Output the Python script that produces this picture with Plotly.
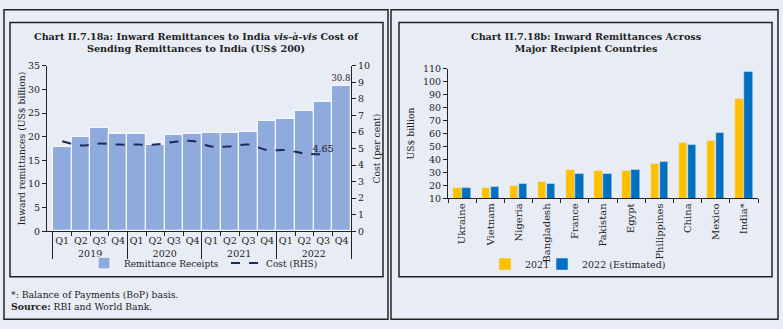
import plotly.graph_objects as go

# ---------------- data ----------------
years = ["2019", "2020", "2021", "2022"]
quarters = ["Q1", "Q2", "Q3", "Q4"]
remittance_receipts = [17.8, 19.9, 21.9, 20.7, 20.5, 18.2, 20.3, 20.5,
                       20.8, 20.8, 21.0, 23.3, 23.7, 25.5, 27.4, 30.8]
cost_rhs = [5.44, 5.19, 5.30, 5.24, 5.24, 5.24, 5.40, 5.46,
            5.13, 5.13, 5.24, 4.91, 4.91, 4.70, 4.65]

countries = ["Ukraine", "Vietnam", "Nigeria", "Bangladesh", "France", "Pakistan",
             "Egypt", "Philippines", "China", "Mexico", "India*"]
rem_2021 = [18.0, 18.0, 19.6, 22.5, 32.4, 31.4, 31.5, 36.9, 53.0, 54.4, 86.9]
rem_2022 = [18.5, 18.9, 21.0, 21.2, 28.8, 29.2, 32.4, 38.2, 51.0, 60.5, 107.5]

# ---------------- style ----------------
W, H = 783, 329
BG = "#E8EDF5"
INK = "#222222"
FONT = "DejaVu Serif"
FS = 9.5

def px(x):
    return x / W

def py(y):
    return 1 - y / H

xcat = [[y for y in years for _ in quarters], [q for _ in years for q in quarters]]
xcat_cost = [xcat[0][:len(cost_rhs)], xcat[1][:len(cost_rhs)]]

fig = go.Figure()

fig.add_trace(go.Bar(
    x=xcat, y=remittance_receipts, name="Remittance Receipts", showlegend=True,
    marker=dict(color="#8FAADC", line=dict(color="#F4F6FA", width=1.2)),
    text=[""] * (len(remittance_receipts) - 1) + [f"{remittance_receipts[-1]:.1f}"],
    textposition="outside", textfont=dict(family=FONT, size=FS, color=INK),
    cliponaxis=False, xaxis="x", yaxis="y", legend="legend", width=1.0,
))
fig.add_trace(go.Scatter(
    x=xcat_cost, y=cost_rhs, name="Cost (RHS)", mode="lines+text", showlegend=True,
    line=dict(color="#1F2A5E", width=2, dash="dash", shape="spline"),
    text=[""] * (len(cost_rhs) - 1) + [f"{cost_rhs[-1]:.2f}"],
    textposition="top center", textfont=dict(family=FONT, size=FS, color=INK),
    xaxis="x", yaxis="y2", legend="legend2", cliponaxis=False,
))

fig.add_trace(go.Bar(
    x=countries, y=rem_2021, name="2021", marker=dict(color="#FFC000"), showlegend=True,
    xaxis="x3", yaxis="y3", legend="legend3", width=0.3, offset=-0.31,
))
fig.add_trace(go.Bar(
    x=countries, y=rem_2022, name="2022 (Estimated)", marker=dict(color="#0070C0"),
    showlegend=True,
    xaxis="x3", yaxis="y3", legend="legend4", width=0.3, offset=0.01,
))

axis_common = dict(showgrid=False, zeroline=False, linecolor=INK, linewidth=1,
                   tickcolor=INK, ticklen=4, ticks="outside",
                   tickfont=dict(family=FONT, size=FS, color=INK))
title_font = dict(family=FONT, size=9.2, color=INK)

def leg(x, y, size=FS):
    return dict(orientation="h", x=px(x), xanchor="left", y=py(y), yanchor="middle",
                bgcolor="rgba(0,0,0,0)", font=dict(family=FONT, size=size, color=INK),
                itemwidth=30)

fig.update_layout(
    width=W, height=H, margin=dict(l=0, r=0, t=0, b=0),
    paper_bgcolor=BG, plot_bgcolor=BG, showlegend=True,
    font=dict(family=FONT, size=FS, color=INK),
    barmode="group", bargap=0.0,
    xaxis=dict(domain=[px(47), px(351)], anchor="y", type="multicategory",
               showdividers=True, dividercolor=INK, dividerwidth=1,
               tickangle=0, tickson="boundaries", **axis_common),
    yaxis=dict(domain=[py(233), py(62)], anchor="x", range=[0, 35], dtick=5,
               title=dict(text="Inward remittances (US$ billion)", standoff=0, font=title_font),
               **axis_common),
    yaxis2=dict(domain=[py(233), py(62)], anchor="x", overlaying="y", side="right",
                range=[0, 10], dtick=1,
                title=dict(text="Cost (per cent)", standoff=4, font=title_font),
                **axis_common),
    xaxis3=dict(domain=[px(448), px(758)], anchor="y3", type="category", tickangle=-90,
                tickson="boundaries", **{**axis_common,
                                         "tickfont": dict(family=FONT, size=10, color=INK)}),
    yaxis3=dict(domain=[py(199), py(65)], anchor="x3", range=[10, 110], dtick=10,
                title=dict(text="US$ billion", standoff=6, font=title_font),
                **axis_common),
    legend=leg(84, 266, 9),
    legend2=leg(226, 266, 9),
    legend3=leg(485, 267),
    legend4=leg(542, 267),
)

# titles
fig.add_annotation(text="<b>Chart II.7.18a: Inward Remittances to India <i>vis-à-vis</i> Cost of<br>Sending Remittances to India (US$ 200)</b>",
                   x=px(197), y=py(38), xref="paper", yref="paper", showarrow=False,
                   xanchor="center", yanchor="middle",
                   font=dict(family=FONT, size=9.6, color=INK), align="center")
fig.add_annotation(text="<b>Chart II.7.18b: Inward Remittances Across<br>Major Recipient Countries</b>",
                   x=px(586), y=py(38), xref="paper", yref="paper", showarrow=False,
                   xanchor="center", yanchor="middle",
                   font=dict(family=FONT, size=9.6, color=INK), align="center")
# footnotes
fig.add_annotation(text="*: Balance of Payments (BoP) basis.", x=px(9), y=py(298),
                   xref="paper", yref="paper", xanchor="left", yanchor="middle", showarrow=False,
                   font=dict(family=FONT, size=9.3, color=INK))
fig.add_annotation(text="<b>Source:</b> RBI and World Bank.", x=px(9), y=py(311),
                   xref="paper", yref="paper", xanchor="left", yanchor="middle", showarrow=False,
                   font=dict(family=FONT, size=9.3, color=INK))

# borders
def box(x0, y0, x1, y1, w=1.5):
    fig.add_shape(type="rect", xref="paper", yref="paper",
                  x0=px(x0), x1=px(x1), y0=py(y1), y1=py(y0),
                  line=dict(color=INK, width=w), fillcolor="rgba(0,0,0,0)")

box(4, 4, 388, 324)
box(391, 4, 778, 324)
box(10, 17, 383, 280)
box(399, 17, 772, 280)

fig.write_html("out.html")
